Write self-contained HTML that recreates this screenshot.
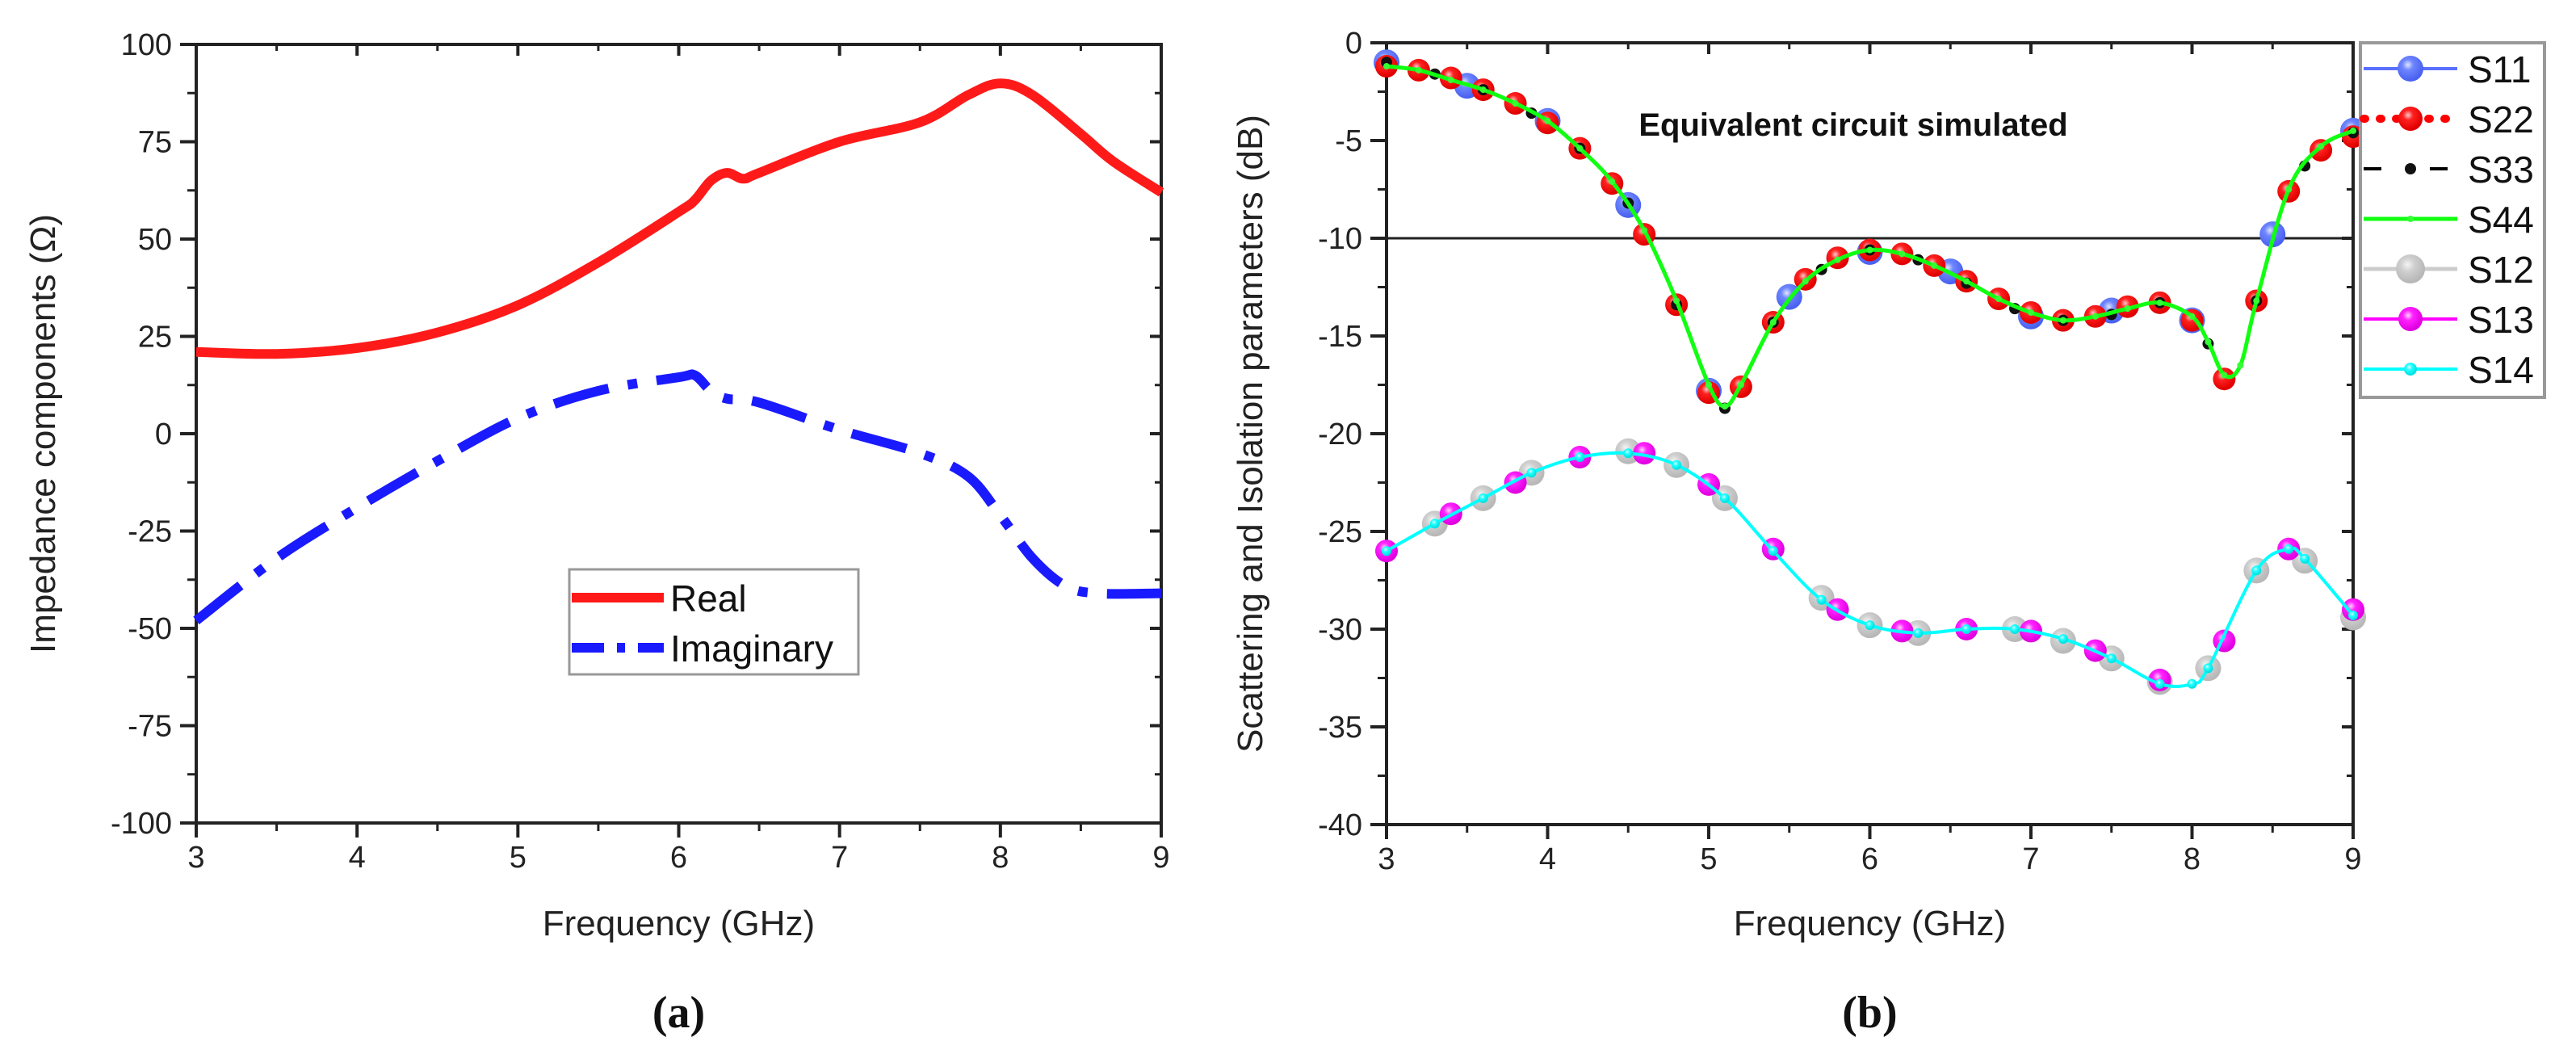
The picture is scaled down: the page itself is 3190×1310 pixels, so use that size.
<!DOCTYPE html>
<html><head><meta charset="utf-8"><style>
html,body{margin:0;padding:0;background:#fff;}
svg text{font-family:"Liberation Sans",Arial,sans-serif;}
</style></head><body>
<svg id="fig" width="3190" height="1305" viewBox="0 0 3190 1305" xmlns="http://www.w3.org/2000/svg">
<defs>
<radialGradient id="gBlue" cx="0.4" cy="0.35" r="0.6"><stop offset="0" stop-color="#dfe6ff"/><stop offset="0.35" stop-color="#6f86ff"/><stop offset="1" stop-color="#4a62f0"/></radialGradient>
<radialGradient id="gRed" cx="0.4" cy="0.35" r="0.6"><stop offset="0" stop-color="#ffc8c8"/><stop offset="0.35" stop-color="#ff2020"/><stop offset="1" stop-color="#e00000"/></radialGradient>
<radialGradient id="gGray" cx="0.4" cy="0.35" r="0.6"><stop offset="0" stop-color="#f4f4f4"/><stop offset="0.4" stop-color="#cfcfcf"/><stop offset="1" stop-color="#b8b8b8"/></radialGradient>
<radialGradient id="gMag" cx="0.4" cy="0.35" r="0.6"><stop offset="0" stop-color="#ffd0ff"/><stop offset="0.35" stop-color="#ff22ff"/><stop offset="1" stop-color="#e000e0"/></radialGradient>
<radialGradient id="gCyan" cx="0.4" cy="0.35" r="0.6"><stop offset="0" stop-color="#e0ffff"/><stop offset="0.4" stop-color="#22ffff"/><stop offset="1" stop-color="#00e0e0"/></radialGradient>
</defs>
<g id="pa"></g>
<g id="pb"></g>
</svg>
<script>
// ---- Panel (a) data ----
const realX = [3,3.5,4,4.5,5,5.5,6,6.1,6.2,6.3,6.4,6.5,7,7.5,7.8,8,8.2,8.5,8.7,9];
const realY = [21,20.5,22,26,33,44,57,60,65,67,65.5,67,75,80,87,90,87,77,70,62];
const imagX = [3,3.5,4,4.5,5,5.5,6,6.1,6.2,6.3,6.5,7,7.5,7.8,8,8.2,8.4,8.6,9];
const imagY = [-48,-32,-19,-7,4,11,14.5,15,11,9,8,1,-5,-11,-21,-32,-39,-41,-41];
const aYTicks = [100,75,50,25,0,-25,-50,-75,-100];
const xTicks = [3,4,5,6,7,8,9];
// ---- Panel (b) data ----
const s11X = [3,3.5,4,4.5,5,5.5,6,6.5,7,7.5,8,8.5,9];
const s11Y = [-1,-2.2,-4,-8.3,-17.8,-13,-10.7,-11.7,-14,-13.7,-14.2,-9.8,-4.5];
const s22X = [3,3.2,3.4,3.6,3.8,4,4.2,4.4,4.6,4.8,5,5.2,5.4,5.6,5.8,6,6.2,6.4,6.6,6.8,7,7.2,7.4,7.6,7.8,8,8.2,8.4,8.6,8.8,9];
const s22Y = [-1.2,-1.4,-1.8,-2.4,-3.1,-4.1,-5.4,-7.2,-9.8,-13.4,-17.9,-17.6,-14.3,-12.1,-11,-10.6,-10.8,-11.4,-12.2,-13.1,-13.8,-14.2,-14,-13.5,-13.3,-14.2,-17.2,-13.2,-7.6,-5.5,-4.8];
const s33X = [3,3.3,3.6,3.9,4.2,4.5,4.8,5.1,5.4,5.7,6,6.3,6.6,6.9,7.2,7.5,7.8,8.1,8.4,8.7,9];
const s33Y = [-1,-1.6,-2.4,-3.6,-5.4,-8.2,-13.4,-18.7,-14.3,-11.6,-10.6,-11.1,-12.3,-13.6,-14.2,-13.9,-13.3,-15.4,-13.2,-6.3,-4.6];
const s44X = [3,3.2,3.4,3.6,3.8,4,4.2,4.4,4.6,4.8,5,5.1,5.2,5.4,5.6,5.8,6,6.2,6.4,6.6,6.8,7,7.2,7.4,7.6,7.8,8,8.1,8.2,8.3,8.4,8.6,8.8,9];
const s44Y = [-1.2,-1.4,-1.9,-2.4,-3.1,-4,-5.4,-7.1,-9.6,-13.2,-17.5,-18.6,-17.5,-14.3,-12.2,-11.1,-10.6,-10.8,-11.4,-12.2,-13.1,-13.8,-14.2,-14,-13.6,-13.3,-14,-15.3,-17,-16.5,-13.2,-7.5,-5.3,-4.5];
const s12X = [3.3,3.6,3.9,4.5,4.8,5.1,5.7,6,6.3,6.9,7.2,7.5,7.8,8.1,8.4,8.7,9];
const s12Y = [-24.6,-23.3,-22,-20.9,-21.6,-23.3,-28.4,-29.8,-30.2,-30,-30.6,-31.5,-32.7,-32,-27,-26.5,-29.4];
const s13X = [3,3.4,3.8,4.2,4.6,5,5.4,5.8,6.2,6.6,7,7.4,7.8,8.2,8.6,9];
const s13Y = [-26,-24.1,-22.5,-21.2,-21,-22.6,-25.9,-29,-30.1,-30,-30.1,-31.1,-32.6,-30.6,-25.9,-29];
const s14X = [3,3.3,3.6,3.9,4.2,4.5,4.8,5.1,5.4,5.7,6,6.3,6.6,6.9,7.2,7.5,7.8,8,8.1,8.4,8.6,8.7,9];
const s14Y = [-26,-24.6,-23.3,-22,-21.2,-21,-21.6,-23.3,-26,-28.5,-29.8,-30.2,-30,-30,-30.5,-31.5,-32.8,-32.8,-32,-27,-25.9,-26.4,-29.3];
const bYTicks = [0,-5,-10,-15,-20,-25,-30,-35,-40];

const NS='http://www.w3.org/2000/svg';
function mk(parent,tag,attrs,text){const e=document.createElementNS(NS,tag);for(const k in attrs)e.setAttribute(k,attrs[k]);if(text!==undefined)e.textContent=text;parent.appendChild(e);return e;}
function smooth(pts){let d='M'+pts[0][0]+','+pts[0][1];for(let i=0;i<pts.length-1;i++){const p0=pts[Math.max(0,i-1)],p1=pts[i],p2=pts[i+1],p3=pts[Math.min(pts.length-1,i+2)];const c1x=p1[0]+(p2[0]-p0[0])/6,c1y=p1[1]+(p2[1]-p0[1])/6,c2x=p2[0]-(p3[0]-p1[0])/6,c2y=p2[1]-(p3[1]-p1[1])/6;d+=' C'+c1x+','+c1y+' '+c2x+','+c2y+' '+p2[0]+','+p2[1];}return d;}

function axes(g,L,R,T,B,yMin,yMax,yTicks,xTitle,yTitle,yTitleX,label){
  const sx=v=>L+(v-3)/6*(R-L), sy=v=>B-(v-yMin)/(yMax-yMin)*(B-T);
  const fr=mk(g,'rect',{x:L,y:T,width:R-L,height:B-T,fill:'none',stroke:'#222','stroke-width':4});
  
  const step=(yTicks[0]-yTicks[1]);
  yTicks.forEach((v,i)=>{
    const y=sy(v);
    mk(g,'line',{x1:L-20,x2:L,y1:y,y2:y,stroke:'#222','stroke-width':4});
    mk(g,'line',{x1:R,x2:R-14,y1:y,y2:y,stroke:'#222','stroke-width':4});
    if(i<yTicks.length-1){const ym=sy(v-step/2);mk(g,'line',{x1:L-11,x2:L,y1:ym,y2:ym,stroke:'#222','stroke-width':3});mk(g,'line',{x1:R,x2:R-8,y1:ym,y2:ym,stroke:'#222','stroke-width':3});}
    const t=mk(g,'text',{x:L-30,y:y+13,'text-anchor':'end','font-size':38,fill:'#222'},String(v));
    
  });
  xTicks.forEach((v,i)=>{
    const x=sx(v);
    mk(g,'line',{x1:x,x2:x,y1:B,y2:B+18,stroke:'#222','stroke-width':4});
    mk(g,'line',{x1:x,x2:x,y1:T,y2:T+14,stroke:'#222','stroke-width':4});
    if(i<xTicks.length-1){const xm=sx(v+0.5);mk(g,'line',{x1:xm,x2:xm,y1:B,y2:B+10,stroke:'#222','stroke-width':3});mk(g,'line',{x1:xm,x2:xm,y1:T,y2:T+8,stroke:'#222','stroke-width':3});}
    const t=mk(g,'text',{x:x,y:B+55,'text-anchor':'middle','font-size':38,fill:'#222'},String(v));
    
  });
  const xt=mk(g,'text',{x:(L+R)/2,y:1158,'text-anchor':'middle','font-size':44,fill:'#222'},xTitle);
  
  const yt=mk(g,'text',{x:0,y:0,transform:'translate('+yTitleX+','+((T+B)/2)+') rotate(-90)','text-anchor':'middle','font-size':44,fill:'#222'},yTitle);
  
  const pl=mk(g,'text',{x:(L+R)/2,y:1272,'text-anchor':'middle','font-size':56,'font-weight':'bold',style:'font-family:"Liberation Serif",serif',fill:'#111'},label);
  
  return {sx,sy};
}

// ---- Panel (a) ----
const ga=document.getElementById('pa');
const A=axes(ga,243,1438,55,1019,-100,100,aYTicks,'Frequency (GHz)','Impedance components (Ω)',68,'(a)');
const realPath=mk(ga,'path',{d:smooth(realX.map((x,i)=>[A.sx(x),A.sy(realY[i])])),fill:'none',stroke:'#ff1a1a','stroke-width':12,'stroke-linejoin':'round'});

const imagPath=mk(ga,'path',{d:smooth(imagX.map((x,i)=>[A.sx(x),A.sy(imagY[i])])),fill:'none',stroke:'#1a1aff','stroke-width':12,'stroke-dasharray':'70,24,12,24'});

const la=mk(ga,'g',{});

mk(la,'rect',{x:705,y:705,width:358,height:130,fill:'#fff',stroke:'#999','stroke-width':3});
mk(la,'line',{x1:708,x2:822,y1:740,y2:740,stroke:'#ff1a1a','stroke-width':12});
const lr=mk(la,'text',{x:830,y:757,'font-size':46,fill:'#111'},'Real');

mk(la,'line',{x1:708,x2:822,y1:802,y2:802,stroke:'#1a1aff','stroke-width':12,'stroke-dasharray':'40,16,10,16'});
const li=mk(la,'text',{x:830,y:819,'font-size':46,fill:'#111'},'Imaginary');


// ---- Panel (b) ----
const gb=document.getElementById('pb');
const B=axes(gb,1717,2914,53,1021,-40,0,bYTicks,'Frequency (GHz)','Scattering and Isolation parameters (dB)',1563,'(b)');
const ref=mk(gb,'line',{x1:1717,x2:2914,y1:B.sy(-10),y2:B.sy(-10),stroke:'#222','stroke-width':3});

const ann=mk(gb,'text',{x:2295,y:168,'text-anchor':'middle','font-size':40,'font-weight':'bold',fill:'#111'},'Equivalent circuit simulated');


function series(name,xs,ys,color,fill,r,dash,lw,drawLine){
  const g=mk(gb,'g',{});
  
  if(drawLine){const p=mk(g,'path',{d:smooth(xs.map((x,i)=>[B.sx(x),B.sy(ys[i])])),fill:'none',stroke:color,'stroke-width':lw});if(dash)p.setAttribute('stroke-dasharray',dash);}
  xs.forEach((x,i)=>{const c=mk(g,'circle',{cx:B.sx(x),cy:B.sy(ys[i]),r:r,fill:fill});
    });
}
series('s12',s12X,s12Y,'#ccc','url(#gGray)',16,null,4,false);
series('s13',s13X,s13Y,'#f0f','url(#gMag)',14,null,4,false);
series('s14',s14X,s14Y,'#0ff','url(#gCyan)',6,null,4,true);
series('s11',s11X,s11Y,'#5a70ff','url(#gBlue)',16,null,4,false);
series('s22',s22X,s22Y,'#f00','url(#gRed)',14,null,9,false);
series('s33',s33X,s33Y,'#000','#111',7,null,4,false);
series('s44',s44X,s44Y,'#1f1','#3f3',4,null,5,true);

const lb=mk(gb,'g',{});

mk(lb,'rect',{x:2923,y:53,width:228,height:439,fill:'#fff',stroke:'#999','stroke-width':4});
const legNames=['S11','S22','S33','S44','S12','S13','S14'];
const legRows=[
 ['#5a70ff',null,'url(#gBlue)',16,4],['#f00','2,18','url(#gRed)',15,10],['#000','22,60','#111',7,4],
 ['#1f1',null,'#3f3',4,5],['#ccc',null,'url(#gGray)',18,5],['#f0f',null,'url(#gMag)',15,4],['#0ff',null,'url(#gCyan)',8,4]];
legNames.forEach((n,i)=>{
  const y=85+i*62, s=legRows[i];
  const e=mk(lb,'g',{});
  
  const l=mk(e,'line',{x1:2927,x2:3043,y1:y,y2:y,stroke:s[0],'stroke-width':s[4]});
  if(s[1]){l.setAttribute('stroke-dasharray',s[1]);if(i===1)l.setAttribute('stroke-linecap','round');}
  mk(e,'circle',{cx:2985,cy:y,r:s[3],fill:s[2]});
  mk(e,'text',{x:3056,y:y+17,'font-size':46,fill:'#111'},n);
});
</script>
</body></html>
